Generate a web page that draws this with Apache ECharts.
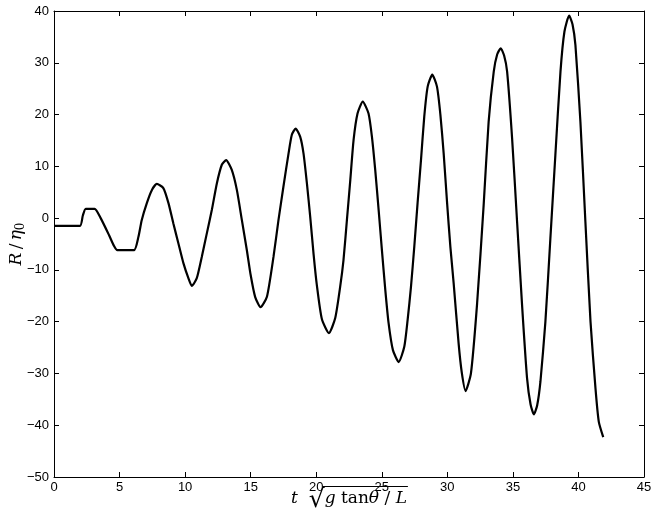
<!DOCTYPE html>
<html>
<head>
<meta charset="utf-8">
<script src="https://cdn.jsdelivr.net/npm/echarts@6/dist/echarts.min.js"></script>
<style>
  html, body { margin: 0; padding: 0; background: #fff; }
  #chart { width: 656px; height: 527px; }
</style>
</head>
<body>
<div id="chart"></div>
<script>
// values
const tValues = [
  0, 1.98, 2.2, 2.42, 3.1, 3.56, 4.2, 4.58, 4.83, 6.1,
  6.44, 6.69, 7.08, 7.46, 7.84, 8.34, 8.73, 9.1, 9.49, 9.87,
  10.25, 10.51, 10.89, 11.27, 11.66, 12.04, 12.42, 12.8, 13.13, 13.56,
  13.95, 14.33, 14.71, 15.0, 15.34, 15.75, 16.24, 16.74, 17.12, 17.5,
  17.89, 18.14, 18.43, 18.78, 19.03, 19.29, 19.54, 19.8, 20.05, 20.43,
  20.97, 21.45, 21.83, 22.08, 22.34, 22.6, 22.85, 23.15, 23.55, 23.99,
  24.25, 24.5, 24.76, 25.01, 25.27, 25.52, 25.85, 26.29, 26.72, 26.97,
  27.23, 27.48, 27.73, 27.99, 28.24, 28.5, 28.85, 29.21, 29.47, 29.72,
  29.98, 30.23, 30.48, 30.86, 31.1, 31.39, 31.8, 32.27, 32.77, 33.15,
  33.54, 33.8, 34.07, 34.33, 34.56, 34.94, 35.32, 35.7, 36.08, 36.35,
  36.6, 36.85, 37.1, 37.48, 37.86, 38.24, 38.63, 38.93, 39.29, 39.55,
  39.77, 40.15, 40.53, 40.92, 41.3, 41.55, 41.89
];
const rValues = [
  -1.5, -1.5, 0.5, 1.8, 1.8, 0, -3.3, -5.4, -6.2, -6.2,
  -3.6, -0.4, 2.9, 5.4, 6.6, 5.8, 2.9, -1.0, -4.9, -8.7,
  -11.6, -13.1, -11.6, -7.5, -2.9, 1.6, 6.7, 10.3, 11.2, 9.3,
  5.4, -0.4, -6.2, -11.0, -15.2, -17.2, -15.2, -7.5, -0.4, 6.1,
  12.5, 16.1, 17.3, 15.7, 12.5, 6.7, 0.3, -7.0, -13.0, -19.5,
  -22.2, -19.3, -13.2, -8.1, -0.4, 7.4, 15.1, 20.2, 22.5, 20.2,
  15.7, 9.3, 1.6, -6.2, -13.9, -20.3, -25.5, -27.8, -24.8, -19.7,
  -13.2, -5.5, 2.9, 11.2, 19.6, 25.4, 27.7, 25.4, 20.0, 12.5,
  3.0, -5.5, -12.5, -24.2, -29.8, -33.4, -30.0, -16.5, 2.5, 18.6,
  28.3, 31.6, 32.8, 31.4, 28.3, 15.4, -0.7, -16.8, -30.9, -36.0,
  -37.9, -36.2, -31.6, -20.0, -3.9, 12.2, 28.3, 36.0, 39.1, 37.4,
  33.4, 18.6, -0.7, -20.0, -32.9, -39.3, -42.3
];
const xTicks = [0, 45, 5];   // min, max, interval
const yTicks = [-50, 40, 10];

const fmt = v => (v < 0 ? '\u2212' + Math.abs(v) : String(v));

const chart = echarts.init(document.getElementById('chart'));

const grid = { left: 54, right: 12, top: 11, bottom: 50 };

// x axis title t·sqrt(g tan θ / L), laid out piece by piece so the root bar fits
const serif = 'DejaVu Serif';
const titleParts = [
  ['t', 'italic', 17], ['  ', 'normal', 17], ['\u221A', 'normal', 25], ['g', 'italic', 17],
  [' tan', 'normal', 17], ['\u03B8', 'italic', 17], [' / ', 'normal', 17], ['L', 'italic', 17]
];
const measure = document.createElement('canvas').getContext('2d');
function partFont(p) { return p[1] + ' ' + p[2] + 'px "' + serif + '"'; }
const widths = titleParts.map(p => { measure.font = partFont(p); return measure.measureText(p[0]).width; });
const totalW = widths.reduce((a, b) => a + b, 0);
const midX = grid.left + (656 - grid.left - grid.right) / 2;
const titleY = 499;
let cursor = midX - totalW / 2;
let barStart = 0;
const titleGraphics = [];
titleParts.forEach((p, i) => {
  titleGraphics.push({
    type: 'text', x: cursor, y: i === 2 ? titleY + 1 : titleY,
    style: { text: p[0], font: partFont(p), fill: '#000', verticalAlign: 'middle', align: 'left' }
  });
  cursor += widths[i];
  if (i === 2) barStart = cursor - 2;
});
titleGraphics.push({
  type: 'line',
  shape: { x1: barStart, y1: titleY - 12.5, x2: cursor + 1, y2: titleY - 12.5 },
  style: { stroke: '#000', lineWidth: 1 }
});

const tickStyle = { show: true, inside: true, length: 5, lineStyle: { color: '#000', width: 1 } };
const lineStyle = { show: true, onZero: false, lineStyle: { color: '#000', width: 1 } };
const labelStyle = { color: '#000', fontFamily: 'Liberation Sans', fontSize: 13 };

const option = {
  animation: false,
  grid: Object.assign({ containLabel: false, outerBoundsMode: 'none' }, grid),
  graphic: titleGraphics,
  xAxis: [
    {
      type: 'value', min: xTicks[0], max: xTicks[1], interval: xTicks[2],
      position: 'bottom',
      axisLine: lineStyle, axisTick: tickStyle, splitLine: { show: false },
      axisLabel: Object.assign({ margin: 4, formatter: fmt }, labelStyle)
    },
    {
      type: 'value', min: xTicks[0], max: xTicks[1], interval: xTicks[2],
      position: 'top',
      axisLine: lineStyle, axisTick: tickStyle, splitLine: { show: false },
      axisLabel: { show: false }
    }
  ],
  yAxis: [
    {
      type: 'value', min: yTicks[0], max: yTicks[1], interval: yTicks[2],
      position: 'left',
      axisLine: lineStyle, axisTick: tickStyle, splitLine: { show: false },
      axisLabel: Object.assign({ margin: 5, formatter: fmt }, labelStyle),
      name: '{i|R} {n|/} {i|\u03B7}{s|0}',
      nameLocation: 'middle', nameGap: 27, nameRotate: 90, nameMoveOverlap: false,
      nameTextStyle: {
        rich: {
          i: { fontFamily: serif, fontStyle: 'italic', fontSize: 17, color: '#000' },
          n: { fontFamily: serif, fontSize: 17, color: '#000' },
          s: { fontFamily: serif, fontSize: 12, color: '#000', padding: [8, 0, 0, 0] }
        }
      }
    },
    {
      type: 'value', min: yTicks[0], max: yTicks[1], interval: yTicks[2],
      position: 'right',
      axisLine: lineStyle, axisTick: tickStyle, splitLine: { show: false },
      axisLabel: { show: false }
    }
  ],
  series: [
    {
      type: 'line',
      data: tValues.map((t, i) => [t, rValues[i]]),
      showSymbol: false,
      smooth: 0.2,
      lineStyle: { color: '#000', width: 2.2 }
    }
  ]
};

chart.setOption(option);
</script>
</body>
</html>
